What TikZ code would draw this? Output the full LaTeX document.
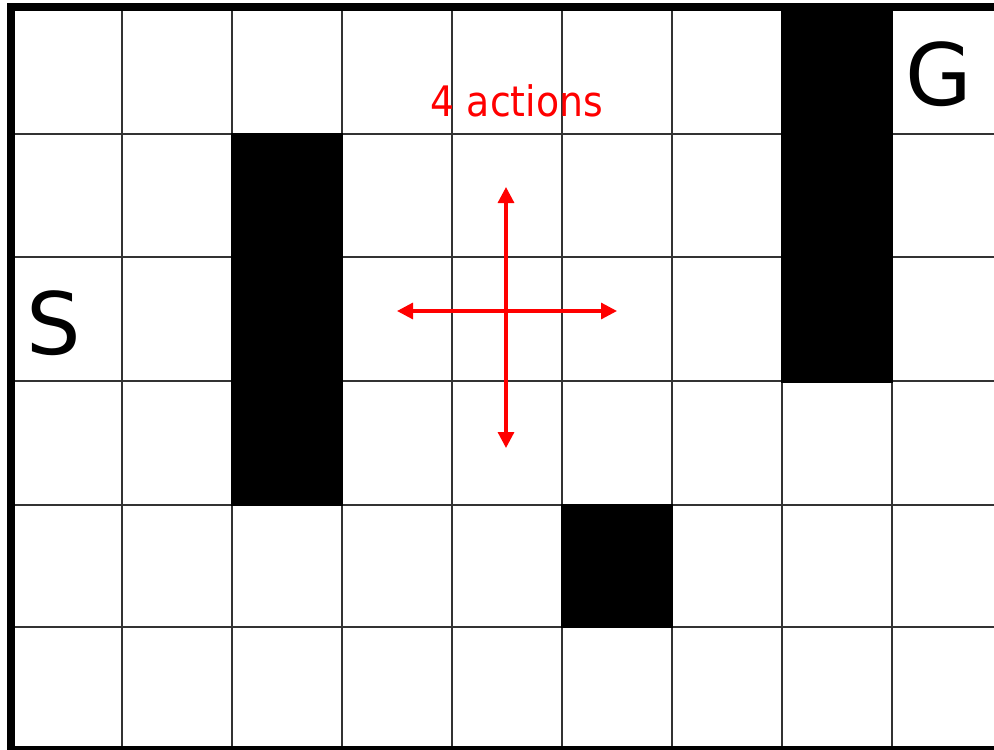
\documentclass[tikz,border=0pt]{standalone}
\usepackage{fontspec}
\setmainfont{DejaVu Sans}
\usetikzlibrary{arrows.meta}
\begin{document}
\begin{tikzpicture}[x=1pt,y=-1pt,
  gridline/.style={line width=2pt,black!80},
  border/.style={line width=8pt,black},
  wall/.style={fill=black},
  act/.style={red,line width=3.2pt,{Triangle[length=16pt,width=16pt]}-{Triangle[length=16pt,width=16pt]}},
  biglabel/.style={inner sep=0pt,font=\fontsize{86}{90}\selectfont},
  redlabel/.style={inner sep=0pt,red,xscale=0.9,font=\fontsize{42}{46}\selectfont}]
\useasboundingbox (0,0) rectangle (994,750);
\fill[white] (0,0) rectangle (994,750);
% grid
\foreach \x in {122,232,342,452,562,672,782,892} \draw[gridline] (\x,8) -- (\x,749);
\foreach \y in {134,257,381,505,627} \draw[gridline] (12,\y) -- (994,\y);
% walls
\fill[wall] (231,133) rectangle (343,506);
\fill[wall] (781,7) rectangle (893,383);
\fill[wall] (561,504) rectangle (673,628);
% border
\draw[border] (11,750) -- (11,7) -- (1000,7);
\draw[border] (11,750) -- (1000,750);
% labels
\node[biglabel] (S) at (54,323) {S};
\node[biglabel] (G) at (939,74) {G};
\node[redlabel] (A) at (517,101) {4 actions};
% actions
\coordinate (up) at (506,187);
\coordinate (down) at (506,448);
\coordinate (left) at (397,311);
\coordinate (right) at (617,311);
\draw[act] (up) -- (down);
\draw[act] (left) -- (right);
\end{tikzpicture}
\end{document}
